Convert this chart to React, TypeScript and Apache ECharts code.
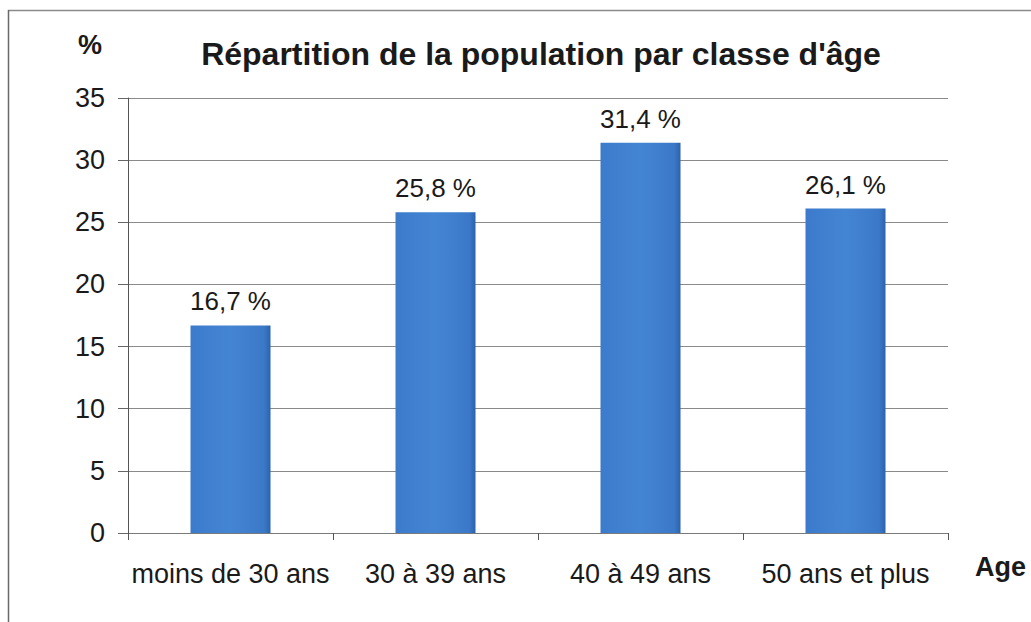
import React, { useEffect, useRef } from "react";
import * as echarts from "echarts";

const categories = ["moins de 30 ans", "30 à 39 ans", "40 à 49 ans", "50 ans et plus"];
const values = [16.7, 25.8, 31.4, 26.1];
const titleText = "Répartition de la population par classe d'âge";
const yName = "%";
const xName = "Age";

const FONT = "'Liberation Sans', Arial, sans-serif";

export default function App() {
  const ref = useRef<HTMLDivElement>(null);
  useEffect(() => {
    if (!ref.current) return;
    const chart = echarts.init(ref.current, undefined, { renderer: "svg" });
    chart.setOption({
      animation: false,
      backgroundColor: "#ffffff",
      title: {
        text: titleText,
        left: 536,
        textAlign: "center",
        top: 33,
        textStyle: { fontFamily: FONT, fontSize: 32, fontWeight: "bold", color: "#1a1a1a" },
      },
      grid: { left: 128, right: 83, top: 98, bottom: 89, containLabel: false },
      xAxis: {
        type: "category",
        data: categories,
        axisLine: { show: true, lineStyle: { color: "#7a7a7a", width: 1 } },
        axisTick: { show: true, alignWithLabel: false, length: 7, lineStyle: { color: "#555" } },
        axisLabel: { fontFamily: FONT, fontSize: 27, color: "#1a1a1a", margin: 27, interval: 0 },
        splitLine: { show: false },
      },
      yAxis: {
        type: "value",
        min: 0,
        max: 35,
        interval: 5,
        axisLine: { show: true, lineStyle: { color: "#555", width: 1 } },
        axisTick: { show: true, inside: false, length: 10, lineStyle: { color: "#666" } },
        axisLabel: { fontFamily: FONT, fontSize: 27, color: "#1a1a1a", margin: 23 },
        splitLine: { show: true, lineStyle: { color: "#8a8a8a", width: 1 } },
      },
      series: [
        {
          type: "bar",
          data: values,
          barWidth: 80,
          itemStyle: {
            color: new echarts.graphic.LinearGradient(0, 0, 1, 0, [
              { offset: 0, color: "#3c7bcc" },
              { offset: 0.5, color: "#4485d3" },
              { offset: 0.92, color: "#3b79c8" },
              { offset: 1, color: "#2c62ab" },
            ]),
          },
          label: {
            show: true,
            position: "top",
            distance: 11,
            fontFamily: FONT,
            fontSize: 26,
            color: "#1a1a1a",
            formatter: (p: any) => String(p.value).replace(".", ",") + " %",
          },
        },
      ],
      graphic: [
        {
          type: "line",
          shape: { x1: 8, y1: 10.5, x2: 1031, y2: 10.5 },
          style: { stroke: "#8a8a8a", lineWidth: 1.5 },
        },
        {
          type: "line",
          shape: { x1: 8.5, y1: 10, x2: 8.5, y2: 622 },
          style: { stroke: "#6a6a6a", lineWidth: 1.5 },
        },
        {
          type: "text",
          left: 78,
          top: 31,
          style: { text: yName, fontFamily: FONT, fontSize: 27, fontWeight: "bold", fill: "#1a1a1a" },
        },
        {
          type: "text",
          left: 975,
          top: 553,
          style: { text: xName, fontFamily: FONT, fontSize: 27, fontWeight: "bold", fill: "#1a1a1a" },
        },
      ],
    });
    return () => chart.dispose();
  }, []);
  return (
    <div
      ref={ref}
      style={{ position: "fixed", left: 0, top: 0, width: 1031, height: 622 }}
    />
  );
}
